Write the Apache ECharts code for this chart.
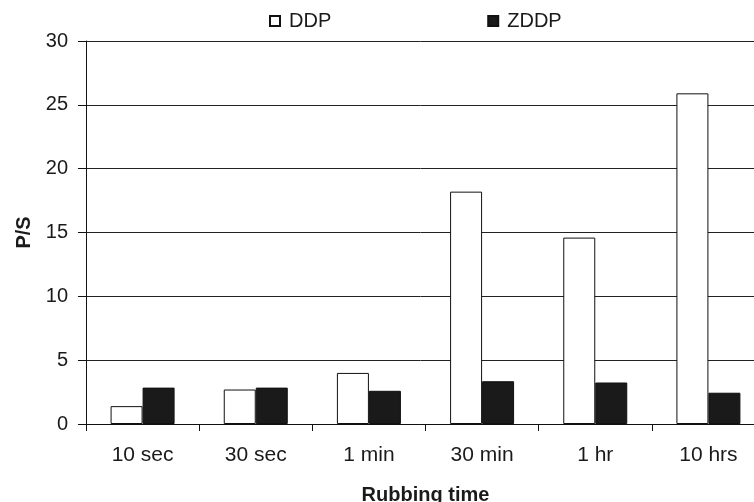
<!DOCTYPE html>
<html>
<head>
<meta charset="utf-8">
<script src="https://cdn.jsdelivr.net/npm/echarts@6/dist/echarts.min.js"></script>
<style>
  html, body { margin: 0; padding: 0; background: #fff; }
  #chart { width: 754px; height: 502px; }
</style>
</head>
<body>
<div id="chart"></div>
<script>
  // rubbing time categories
  var categories = ['10 sec', '30 sec', '1 min', '30 min', '1 hr', '10 hrs'];
  // P/S ratio
  var ddp = [1.4, 2.7, 4.0, 18.2, 14.6, 25.9];
  var zddp = [2.85, 2.85, 2.6, 3.35, 3.25, 2.45];

  var textColor = '#1a1a1a';
  var font = 'Liberation Sans, Arial, sans-serif';

  var chart = echarts.init(document.getElementById('chart'));
  var option = {
    animation: false,
    textStyle: { fontFamily: font, color: textColor },
    legend: {
      top: 6,
      left: 264,
      itemWidth: 10,
      itemHeight: 10,
      itemGap: 156,
      icon: 'rect',
      textStyle: { fontSize: 20, color: textColor, fontFamily: font, padding: [0, 0, 0, 4] },
      data: ['DDP', 'ZDDP']
    },
    grid: {
      left: 86,
      right: -11,
      top: 41,
      bottom: 78,
      outerBoundsMode: 'none'
    },
    xAxis: {
      type: 'category',
      data: categories,
      name: 'Rubbing time',
      nameLocation: 'middle',
      nameGap: 61,
      nameTextStyle: { fontSize: 20, fontWeight: 'bold', color: textColor, fontFamily: font },
      axisLine: { lineStyle: { color: '#111', width: 1 } },
      axisTick: { show: true, length: 7, lineStyle: { color: '#111' } },
      axisLabel: { fontSize: 21, color: textColor, margin: 21 }
    },
    yAxis: {
      type: 'value',
      min: 0,
      max: 30,
      interval: 5,
      name: 'P/S',
      nameLocation: 'middle',
      nameGap: 52,
      nameTextStyle: { fontSize: 20, fontWeight: 'bold', color: textColor, fontFamily: font },
      axisLine: { show: true, lineStyle: { color: '#111', width: 1 } },
      axisTick: { show: true, length: 8, lineStyle: { color: '#111' } },
      axisLabel: { fontSize: 20, color: textColor, margin: 18 },
      splitLine: { show: true, lineStyle: { color: '#222', width: 1 } }
    },
    series: [{
      name: 'DDP',
      type: 'bar',
      barWidth: 32,
      barGap: '0%',
      data: ddp,
      itemStyle: { color: '#ffffff', borderColor: '#111', borderWidth: 1 }
    }, {
      name: 'ZDDP',
      type: 'bar',
      barWidth: 32,
      data: zddp,
      itemStyle: { color: '#1a1a1a', borderColor: '#111', borderWidth: 1 }
    }]
  };
  chart.setOption(option);
</script>
</body>
</html>
